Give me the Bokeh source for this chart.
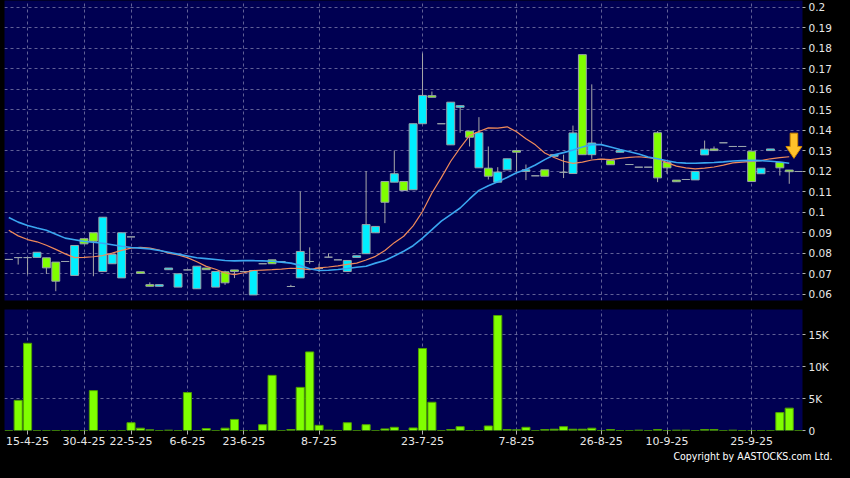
from bokeh.plotting import figure
from bokeh.layouts import column
from bokeh.models import Range1d, FixedTicker, Title, GlobalInlineStyleSheet
from bokeh.embed import file_html
from bokeh.resources import INLINE

# ---------------- data ----------------
opens = [0.0771, 0.078, 0.078, 0.0781, 0.0779, 0.0758, 0.0761, 0.0693, 0.0872, 0.0901,
         0.0712, 0.075, 0.0681, 0.0881, 0.0711, 0.0648, 0.064, 0.0721, 0.0636, 0.072,
         0.0628, 0.0729, 0.0636, 0.0711, 0.072, 0.0712, 0.0598, 0.075, 0.0769, 0.076,
         0.0639, 0.0681, 0.0761, 0.0728, 0.0782, 0.0769, 0.0712, 0.0781, 0.0799, 0.0901,
         0.1151, 0.1148, 0.1151, 0.1111, 0.1433, 0.157, 0.1433, 0.133, 0.1513, 0.1397,
         0.1218, 0.1216, 0.1148, 0.1208, 0.1302, 0.12, 0.1179, 0.1208, 0.1274, 0.1196,
         0.119, 0.177, 0.1282, 0.1259, 0.1254, 0.1294, 0.1234, 0.1221, 0.1221, 0.1389,
         0.1244, 0.1158, 0.1161, 0.1159, 0.1281, 0.131, 0.134, 0.1322, 0.1322, 0.1299,
         0.1189, 0.1302, 0.1244, 0.1207, 0.12]
highs = [0.0771, 0.078, 0.078, 0.0806, 0.0779, 0.0758, 0.0761, 0.0839, 0.0872, 0.0901,
         0.0977, 0.0795, 0.0901, 0.0881, 0.0711, 0.0659, 0.0648, 0.0729, 0.0701, 0.072,
         0.0738, 0.0729, 0.0712, 0.0716, 0.072, 0.0712, 0.0717, 0.075, 0.0769, 0.076,
         0.0647, 0.1102, 0.083, 0.075, 0.0801, 0.0769, 0.0766, 0.0789, 0.1202, 0.0932,
         0.1151, 0.1302, 0.1151, 0.1433, 0.1776, 0.159, 0.1433, 0.1538, 0.1521, 0.1397,
         0.1465, 0.1322, 0.1221, 0.1262, 0.1302, 0.1234, 0.1179, 0.1208, 0.1282, 0.1282,
         0.1424, 0.177, 0.1625, 0.1259, 0.1254, 0.1302, 0.1234, 0.1221, 0.1221, 0.1397,
         0.1244, 0.1158, 0.1161, 0.12, 0.1351, 0.1322, 0.134, 0.1322, 0.1322, 0.1299,
         0.1216, 0.131, 0.1244, 0.1207, 0.12]
lows = [0.0771, 0.0746, 0.0698, 0.0781, 0.070, 0.0616, 0.0761, 0.0693, 0.0847, 0.0689,
        0.0712, 0.075, 0.0681, 0.0881, 0.0703, 0.064, 0.064, 0.0721, 0.0636, 0.072,
        0.0628, 0.0721, 0.0636, 0.0647, 0.068, 0.0712, 0.0598, 0.075, 0.075, 0.076,
        0.0639, 0.0681, 0.075, 0.0709, 0.0782, 0.0769, 0.0712, 0.0781, 0.0799, 0.0901,
        0.0948, 0.1148, 0.1107, 0.1111, 0.1433, 0.1562, 0.1433, 0.133, 0.1389, 0.1322,
        0.1218, 0.1161, 0.1148, 0.1208, 0.12, 0.1158, 0.1179, 0.1177, 0.1274, 0.1168,
        0.119, 0.1282, 0.1262, 0.1259, 0.1233, 0.1294, 0.1234, 0.1221, 0.1221, 0.1148,
        0.1189, 0.115, 0.1161, 0.1159, 0.1281, 0.1302, 0.134, 0.1322, 0.1322, 0.1151,
        0.1189, 0.1302, 0.118, 0.114, 0.12]
closes = [0.0771, 0.078, 0.078, 0.0806, 0.073, 0.0665, 0.0761, 0.0839, 0.0847, 0.086,
          0.0977, 0.0795, 0.0901, 0.0881, 0.0703, 0.064, 0.0648, 0.0729, 0.0701, 0.072,
          0.0738, 0.0721, 0.0712, 0.0657, 0.0712, 0.0712, 0.0717, 0.075, 0.075, 0.076,
          0.0639, 0.081, 0.0761, 0.0728, 0.0782, 0.0769, 0.0766, 0.0789, 0.0941, 0.0932,
          0.105, 0.1189, 0.1107, 0.1433, 0.1571, 0.1562, 0.1433, 0.1538, 0.1521, 0.1367,
          0.1389, 0.1177, 0.1197, 0.1262, 0.1294, 0.1208, 0.1179, 0.1177, 0.1282, 0.1196,
          0.1388, 0.1282, 0.1339, 0.1259, 0.1233, 0.1302, 0.1234, 0.1221, 0.1221, 0.1169,
          0.1218, 0.115, 0.1161, 0.12, 0.1309, 0.1302, 0.134, 0.1322, 0.1322, 0.1151,
          0.1216, 0.131, 0.1218, 0.1199, 0.12]
volumes = [0, 4720, 13650, 0, 0, 0, 0, 0, 0, 6240,
           0, 0, 0, 1220, 360, 100, 0, 50, 0, 5940,
           0, 300, 0, 360, 1730, 0, 0, 910, 8630, 0,
           150, 6750, 12300, 810, 50, 0, 1220, 0, 910, 0,
           250, 500, 0, 400, 12840, 4420, 0, 150, 600, 0,
           0, 710, 18000, 150, 100, 500, 0, 150, 200, 600,
           200, 200, 360, 0, 150, 0, 0, 50, 0, 150,
           0, 50, 50, 0, 150, 150, 0, 50, 0, 0,
           0, 0, 2800, 3500, 0]
ma_short = [0.0913, 0.0886, 0.0868, 0.0857, 0.0840, 0.0820, 0.0798, 0.0780, 0.0781, 0.0784,
            0.0790, 0.0802, 0.0815, 0.0826, 0.0830, 0.0826, 0.0817, 0.0802, 0.0793, 0.0780,
            0.0760, 0.0737, 0.0723, 0.0705, 0.0697, 0.0706, 0.0717, 0.0719, 0.0721, 0.0724,
            0.0728, 0.0726, 0.0721, 0.0730, 0.0734, 0.0740, 0.0747, 0.0753, 0.0768, 0.0786,
            0.0815, 0.0853, 0.0884, 0.0935, 0.1005, 0.1095, 0.1170, 0.1250, 0.1315, 0.1375,
            0.1395, 0.1413, 0.1412, 0.1418, 0.1394, 0.1360, 0.1330, 0.1290, 0.1268, 0.1250,
            0.1240, 0.1246, 0.1256, 0.1260, 0.1258, 0.1264, 0.1269, 0.1272, 0.1268, 0.1262,
            0.1243, 0.1226, 0.1218, 0.1213, 0.1216, 0.1222, 0.1231, 0.1242, 0.1246, 0.1249,
            0.1253, 0.1262, 0.1268, 0.1272]
ma_long = [0.0976, 0.0953, 0.0937, 0.0924, 0.0913, 0.0894, 0.0875, 0.0867, 0.0859, 0.0855,
           0.0850, 0.0843, 0.0835, 0.0829, 0.0826, 0.0822, 0.0815, 0.0806, 0.0797, 0.0788,
           0.0779, 0.0775, 0.0771, 0.0766, 0.0764, 0.0765, 0.0765, 0.0764, 0.0762, 0.0758,
           0.0753, 0.0742, 0.0726, 0.0717, 0.0718, 0.0722, 0.0727, 0.0733, 0.0738, 0.0753,
           0.0766, 0.0788, 0.0811, 0.0838, 0.0875, 0.0916, 0.0958, 0.0990, 0.1022, 0.1066,
           0.1108, 0.1130, 0.1150, 0.1171, 0.1194, 0.1210, 0.1232, 0.1258, 0.1281, 0.1292,
           0.1305, 0.1319, 0.1331, 0.1331, 0.1319, 0.1307, 0.1296, 0.1285, 0.1271, 0.1262,
           0.1252, 0.1244, 0.1241, 0.1240, 0.1242, 0.1244, 0.1247, 0.1251, 0.1253, 0.1254,
           0.1253, 0.1250, 0.1246, 0.1240]
date_ticks = [2, 8, 13, 19, 25, 33, 44, 54, 63, 70, 79]
date_labels = ["15-4-25", "30-4-25", "22-5-25", "6-6-25", "23-6-25", "8-7-25",
               "23-7-25", "7-8-25", "26-8-25", "10-9-25", "25-9-25"]
price_ticks = [0.06, 0.07, 0.08, 0.09, 0.1, 0.11, 0.12, 0.13, 0.14, 0.15, 0.16, 0.17, 0.18, 0.19, 0.2]
price_labels = ["0.06", "0.07", "0.08", "0.09", "0.1", "0.11", "0.12", "0.13", "0.14",
                "0.15", "0.16", "0.17", "0.18", "0.19", "0.2"]
vol_ticks = [0, 5000, 10000, 15000]
vol_labels = ["0", "5K", "10K", "15K"]

# ---------------- styles ----------------
BG = "#000052"
GRID = "#7878A8"
TXT = "#E8E8E8"
UP = "#00EEFF"
DOWN = "#80FF00"
FLAT = "#A8A8A8"
FONT = "DejaVu Sans"

idx = list(range(len(opens)))
tops = [max(o, c) for o, c in zip(opens, closes)]
bots = [min(o, c) for o, c in zip(opens, closes)]
cols = [UP if c > o else (DOWN if c < o else FLAT) for o, c in zip(opens, closes)]

xr = Range1d(-0.455, 84.41)


def style(fig):
    fig.background_fill_color = BG
    fig.border_fill_color = "#000000"
    fig.outline_line_color = None
    for g in (fig.xgrid, fig.ygrid):
        g.grid_line_color = GRID
        g.grid_line_dash = "3 3"
        g.grid_line_alpha = 0.8
    for ax in fig.yaxis:
        ax.axis_line_color = None
        ax.major_tick_line_color = "#B0B0B0"
        ax.major_tick_out = 3
        ax.major_tick_in = 0
        ax.minor_tick_line_color = None
        ax.major_label_text_color = TXT
        ax.major_label_text_font = FONT
        ax.major_label_text_font_size = "10.5px"
        ax.major_label_standoff = 3


# ---------------- price panel ----------------
p = figure(width=834, height=304, x_range=xr, y_range=Range1d(0.05707, 0.20341),
           x_axis_location=None, y_axis_location="right",
           toolbar_location=None, output_backend="svg",
           min_border_left=4, min_border_right=28, min_border_top=0, min_border_bottom=4)
style(p)
p.yaxis.ticker = FixedTicker(ticks=price_ticks)
p.yaxis.major_label_overrides = dict(zip(price_ticks, price_labels))
p.ygrid.ticker = FixedTicker(ticks=price_ticks)
p.xgrid.ticker = FixedTicker(ticks=date_ticks)

p.segment(x0=idx, y0=lows, x1=idx, y1=highs, line_color="#A8A8A8", line_width=1)
p.vbar(x=idx, width=0.84, top=tops, bottom=bots, fill_color=cols,
       line_color="#9AA4AA", line_width=1)

n_ma = len(ma_short)
p.line(idx[:n_ma], ma_short, line_color="#F08A5A", line_width=1.2)
p.line(idx[:len(ma_long)], ma_long, line_color="#3AA6F0", line_width=1.6)

# down-arrow marker pointing at the last short-MA value
ax_ = idx[n_ma - 1] + 0.5
tip = ma_short[-1] - 0.0008
p.patch(x=[ax_ - 0.4, ax_ + 0.4, ax_ + 0.4, ax_ + 0.85, ax_, ax_ - 0.85, ax_ - 0.4],
        y=[tip + 0.0123, tip + 0.0123, tip + 0.0058, tip + 0.0058, tip, tip + 0.0058, tip + 0.0058],
        fill_color="#FFC22A", line_color="#D08A00", line_width=1)

# ---------------- volume panel ----------------
pv = figure(width=834, height=158, x_range=xr, y_range=Range1d(0, 18940),
            y_axis_location="right", toolbar_location=None, output_backend="svg",
            min_border_left=4, min_border_right=28, min_border_top=5, min_border_bottom=0)
style(pv)
pv.yaxis.ticker = FixedTicker(ticks=vol_ticks)
pv.yaxis.major_label_overrides = dict(zip(vol_ticks, vol_labels))
pv.ygrid.ticker = FixedTicker(ticks=vol_ticks[1:])
pv.xgrid.ticker = FixedTicker(ticks=date_ticks)
pv.xaxis.ticker = FixedTicker(ticks=date_ticks)
pv.xaxis.major_label_overrides = dict(zip(date_ticks, date_labels))
pv.xaxis.axis_line_color = None
pv.xaxis.major_tick_line_color = "#B0B0B0"
pv.xaxis.major_tick_out = 4
pv.xaxis.major_tick_in = 0
pv.xaxis.minor_tick_line_color = None
pv.xaxis.major_label_text_color = TXT
pv.xaxis.major_label_text_font = FONT
pv.xaxis.major_label_text_font_size = "11px"
pv.xaxis.major_label_standoff = 2

pv.vbar(x=idx, width=0.86, top=volumes, bottom=0, fill_color=DOWN, line_color="#4FA000", line_width=1)

pv.add_layout(Title(text="Copyright by AASTOCKS.com Ltd.", align="right", text_color="#FFFFFF",
                    text_font="DejaVu Sans Condensed, DejaVu Sans", text_font_size="10.5px",
                    text_font_style="normal", standoff=1, offset=-30), "below")

layout = column(p, pv, spacing=0,
                stylesheets=[GlobalInlineStyleSheet(css="html, body { background-color: #000000; }")])

open("out.html", "w").write(file_html(layout, INLINE))
